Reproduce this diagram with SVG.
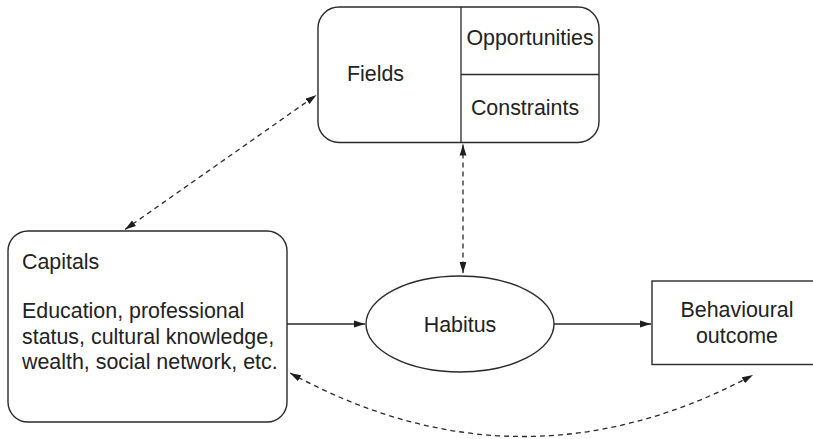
<svg xmlns="http://www.w3.org/2000/svg" width="813" height="439" viewBox="0 0 813 439">
  <style>
    .box { fill: #fff; stroke: #2a2a2a; stroke-width: 1.4; }
    .lbl { font-family: "Liberation Sans", Arial, sans-serif; font-size: 21.4px; fill: #222; }
    .mid { text-anchor: middle; }
    .solid { fill: none; stroke: #2a2a2a; stroke-width: 1.3; }
    .dash { fill: none; stroke: #2a2a2a; stroke-width: 1.3; stroke-dasharray: 5 4; }
  </style>
  <defs>
    <marker id="head" viewBox="0 0 11 8" refX="11" refY="4" markerWidth="11" markerHeight="8" markerUnits="userSpaceOnUse" orient="auto-start-reverse">
      <path d="M0,0.6 L11,4 L0,7.4 Z" fill="#1e1e1e"/>
    </marker>
  </defs>
  <rect width="813" height="439" fill="#fff"/>

  <!-- Fields box with Opportunities / Constraints split -->
  <g id="fields">
    <rect class="box" x="318" y="7" width="281" height="135.5" rx="21" ry="21"/>
    <line class="solid" x1="461" y1="7" x2="461" y2="142.5"/>
    <line class="solid" x1="461" y1="74.5" x2="599" y2="74.5"/>
    <text class="lbl" x="347" y="81">Fields</text>
    <text class="lbl mid" x="530" y="45">Opportunities</text>
    <text class="lbl mid" x="525" y="115">Constraints</text>
  </g>

  <!-- Capitals box -->
  <g id="capitals">
    <rect class="box" x="8" y="231" width="279" height="191" rx="20" ry="20"/>
    <text class="lbl" x="22" y="269">Capitals</text>
    <text class="lbl" x="22" y="318">Education, professional</text>
    <text class="lbl" x="22" y="343.5">status, cultural knowledge,</text>
    <text class="lbl" x="22" y="369">wealth, social network, etc.</text>
  </g>

  <!-- Habitus ellipse -->
  <g id="habitus">
    <ellipse class="box" cx="460" cy="324" rx="94" ry="48"/>
    <text class="lbl mid" x="460" y="332">Habitus</text>
  </g>

  <!-- Behavioural outcome box -->
  <g id="outcome">
    <rect class="box" x="652" y="281" width="170" height="83.5"/>
    <text class="lbl mid" x="737" y="317">Behavioural</text>
    <text class="lbl mid" x="737" y="343">outcome</text>
  </g>

  <!-- Connectors -->
  <g id="connectors">
    <line class="solid" x1="287" y1="324" x2="365" y2="324" marker-end="url(#head)"/>
    <line class="solid" x1="554" y1="324" x2="651" y2="324" marker-end="url(#head)"/>
    <line class="dash" x1="125" y1="229.5" x2="316.5" y2="95" marker-start="url(#head)" marker-end="url(#head)"/>
    <line class="dash" x1="463" y1="144.5" x2="463" y2="273" marker-start="url(#head)" marker-end="url(#head)"/>
    <path class="dash" d="M290,373 Q521,499 753,375" marker-start="url(#head)" marker-end="url(#head)"/>
  </g>
</svg>
